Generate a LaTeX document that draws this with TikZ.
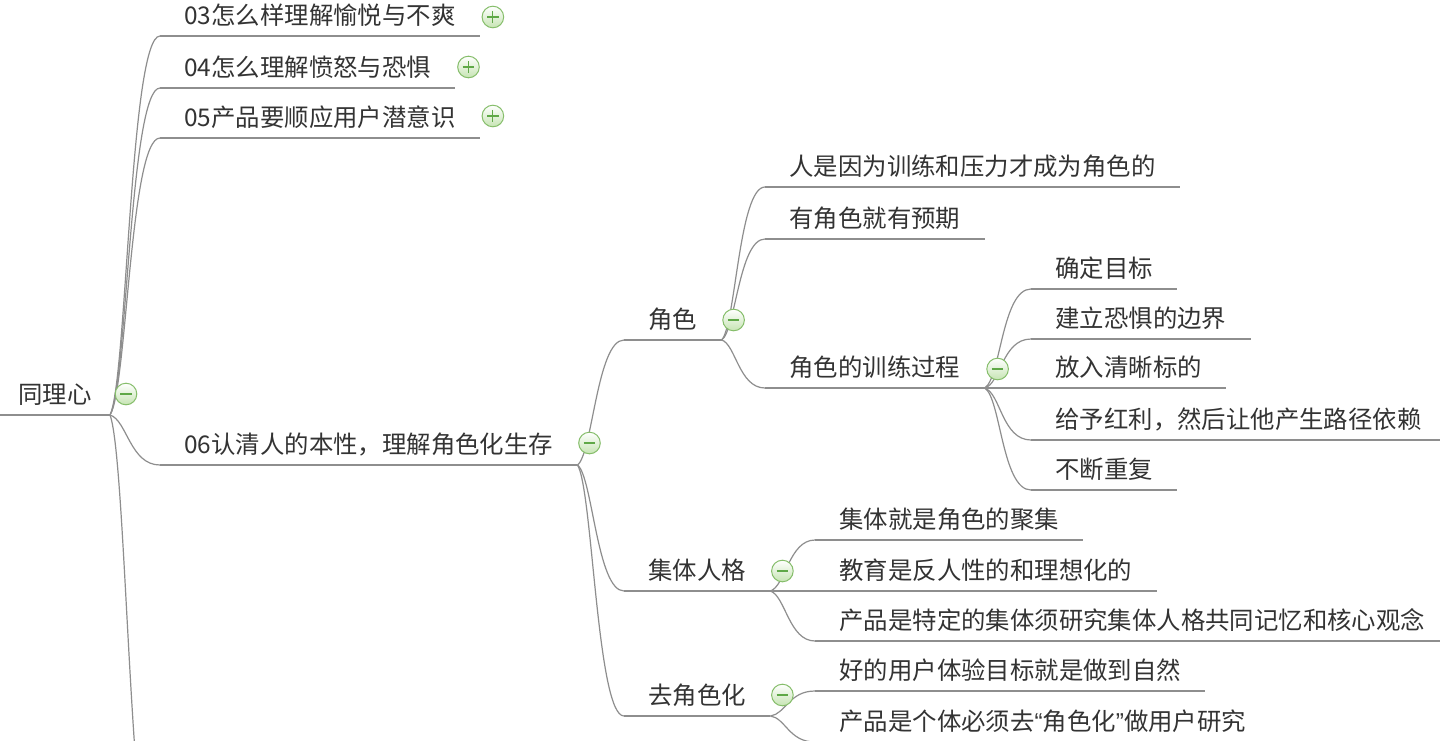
\documentclass[tikz,border=0pt]{standalone}
\usepackage{fontspec}
\newfontfamily\cjk{Noto Sans CJK SC}
\newfontfamily\quotefont{Liberation Sans}
\definecolor{linegray}{HTML}{8E8E8E}
\definecolor{textgray}{HTML}{333333}
\definecolor{iconline}{HTML}{86BE6B}
\definecolor{iconfill}{HTML}{C6E4B3}
\definecolor{iconsign}{HTML}{5FA847}
\tikzset{
  branch/.style={draw=linegray, line width=0.6pt},
  topic/.style={anchor=south west, inner xsep=12pt, inner ysep=0pt,
    text height=10pt, text depth=5.5pt, text=textgray,
    font=\cjk\fontsize{12.2pt}{14pt}\selectfont,
    append after command={(\tikzlastnode.south west) edge[branch] (\tikzlastnode.south east)}},
  central/.style={topic, inner xsep=9pt},
  toggle/.style={circle, minimum size=10.8pt, inner sep=0pt, draw=iconline,
    line width=0.5pt, top color=white, bottom color=iconfill},
  minus/.style={toggle, path picture={
    \draw[iconsign, line width=0.6pt] ([xshift=-2.9pt]path picture bounding box.center)
      -- ([xshift=2.9pt]path picture bounding box.center);}},
  plus/.style={toggle, path picture={
    \draw[iconsign, line width=0.6pt] ([xshift=-2.9pt]path picture bounding box.center)
      -- ([xshift=2.9pt]path picture bounding box.center);
    \draw[iconsign, line width=0.6pt] ([yshift=-2.9pt]path picture bounding box.center)
      -- ([yshift=2.9pt]path picture bounding box.center);}},
}
\begin{document}
\begin{tikzpicture}[x=0.5pt, y=-0.5pt]
  \useasboundingbox (0,0) rectangle (1440,740);
  \fill[white] (0,0) rectangle (1440,740);
  \clip (0,0) rectangle (1440,740);

  % topics
  \node[central] (root) at (0,415) {同理心};
  \node[topic] (t03) at (160,36) {03怎么样理解愉悦与不爽};
  \node[topic] (t04) at (160,88) {04怎么理解愤怒与恐惧};
  \node[topic] (t05) at (160,138) {05产品要顺应用户潜意识};
  \node[topic] (t06) at (160,465) {06认清人的本性，理解角色化生存};
  \coordinate (t07) at (160,900);

  \node[topic] (role) at (624,340) {角色};
  \node[topic] (group) at (624,591) {集体人格};
  \node[topic] (derole) at (624,716) {去角色化};

  \node[topic] (role1) at (765,187) {人是因为训练和压力才成为角色的};
  \node[topic] (role2) at (765,239) {有角色就有预期};
  \node[topic] (train) at (765,388) {角色的训练过程};

  \node[topic] (train1) at (1031,289) {确定目标};
  \node[topic] (train2) at (1031,339) {建立恐惧的边界};
  \node[topic] (train3) at (1031,388) {放入清晰标的};
  \node[topic] (train4) at (1031,440) {给予红利，然后让他产生路径依赖};
  \node[topic] (train5) at (1031,490) {不断重复};

  \node[topic] (group1) at (815,540) {集体就是角色的聚集};
  \node[topic] (group2) at (815,591) {教育是反人性的和理想化的};
  \node[topic] (group3) at (815,641) {产品是特定的集体须研究集体人格共同记忆和核心观念};

  \node[topic] (derole1) at (815,691) {好的用户体验目标就是做到自然};
  \node[topic] (derole2) at (815,742) {产品是个体必须去{\quotefont “}角色化{\quotefont ”}做用户研究};

  % connectors
  \draw[branch] (root.south east) .. controls +(17,-34) and +(-30,0) .. (t03.south west);
  \draw[branch] (root.south east) .. controls +(17,-29) and +(-30,0) .. (t04.south west);
  \draw[branch] (root.south east) .. controls +(17,-25) and +(-30,0) .. (t05.south west);
  \draw[branch] (root.south east) .. controls +(17,5) and +(-30,0) .. (t06.south west);
  \draw[branch] (root.south east) .. controls +(17,44) and +(-30,0) .. (t07);

  \draw[branch] (t06.south east) .. controls +(15,-11) and +(-27,0) .. (role.south west);
  \draw[branch] (t06.south east) .. controls +(15,11) and +(-27,0) .. (group.south west);
  \draw[branch] (t06.south east) .. controls +(15,23) and +(-27,0) .. (derole.south west);

  \draw[branch] (role.south east) .. controls +(14,-14) and +(-26,0) .. (role1.south west);
  \draw[branch] (role.south east) .. controls +(14,-9) and +(-26,0) .. (role2.south west);
  \draw[branch] (role.south east) .. controls +(14,4) and +(-26,0) .. (train.south west);

  \draw[branch] (train.south east) .. controls +(16,-9) and +(-29,0) .. (train1.south west);
  \draw[branch] (train.south east) .. controls +(16,-4) and +(-29,0) .. (train2.south west);
  \draw[branch] (train.south east) -- (train3.south west);
  \draw[branch] (train.south east) .. controls +(16,5) and +(-29,0) .. (train4.south west);
  \draw[branch] (train.south east) .. controls +(16,9) and +(-29,0) .. (train5.south west);

  \draw[branch] (group.south east) .. controls +(15,-5) and +(-26,0) .. (group1.south west);
  \draw[branch] (group.south east) -- (group2.south west);
  \draw[branch] (group.south east) .. controls +(15,5) and +(-26,0) .. (group3.south west);

  \draw[branch] (derole.south east) .. controls +(15,-2) and +(-26,0) .. (derole1.south west);
  \draw[branch] (derole.south east) .. controls +(15,2) and +(-26,0) .. (derole2.south west);

  % toggles
  \node[minus] (mroot) at ([shift={(16,-21)}]root.south east) {};
  \node[plus] (p03) at ([shift={(13,-19)}]t03.south east) {};
  \node[plus] (p04) at ([shift={(13,-21)}]t04.south east) {};
  \node[plus] (p05) at ([shift={(13,-22)}]t05.south east) {};
  \node[minus] (m06) at ([shift={(12,-22)}]t06.south east) {};
  \node[minus] (mrole) at ([shift={(12,-20)}]role.south east) {};
  \node[minus] (mtrain) at ([shift={(13,-19)}]train.south east) {};
  \node[minus] (mgroup) at ([shift={(12,-20)}]group.south east) {};
  \node[minus] (mderole) at ([shift={(12,-21)}]derole.south east) {};
\end{tikzpicture}
\end{document}
